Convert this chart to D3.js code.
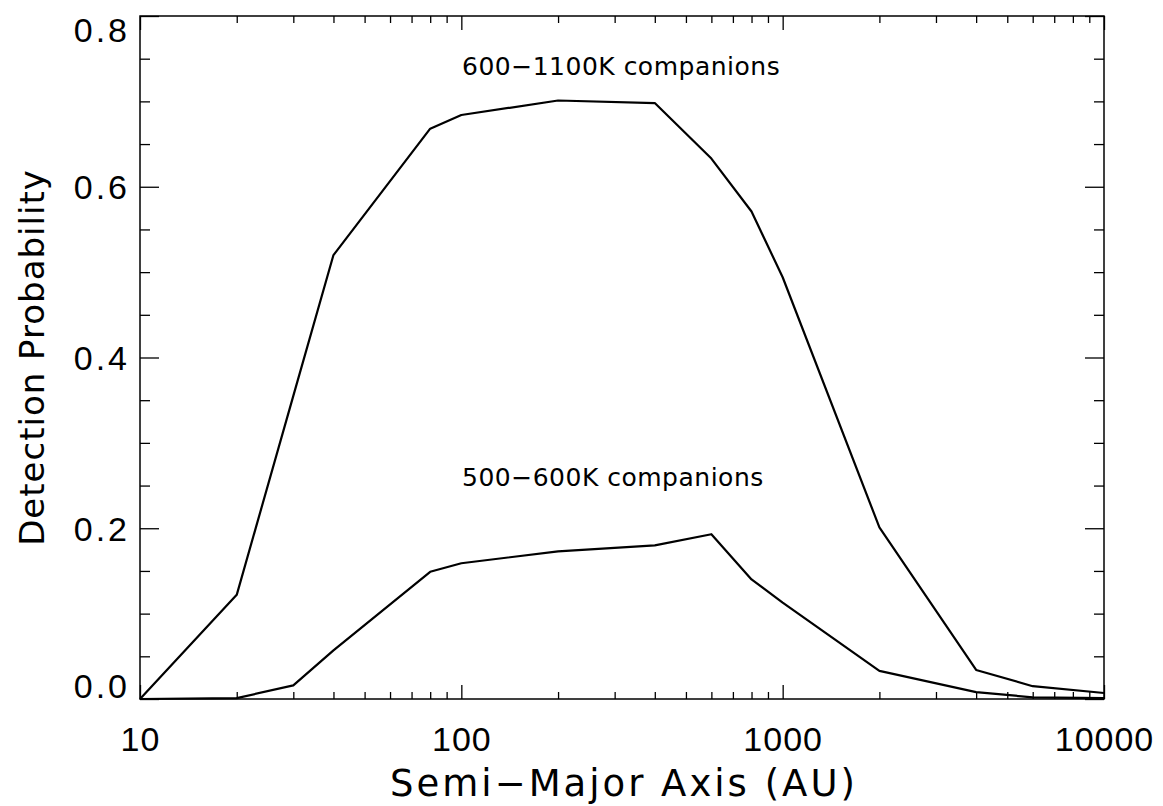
<!DOCTYPE html>
<html>
<head>
<meta charset="utf-8">
<script src="https://cdn.jsdelivr.net/npm/d3@7"></script>
<style>
  body { margin: 0; background: #fff; }
  svg { font-family: "DejaVu Sans", sans-serif; }
  .domain { display: none; }
  .tick line { stroke: #000; stroke-width: 1.3; }
  .tick text { fill: #000; }
</style>
</head>
<body>
<script>
// semi-major axis (AU)
var axisAU = [10, 20, 30, 40, 80, 100, 200, 400, 600, 800, 1000, 2000, 4000, 6000, 10000];
// detection probability, 600-1100K companions
var probHot = [0.0, 0.122, 0.355, 0.520, 0.668, 0.684, 0.701, 0.698, 0.633, 0.571, 0.494, 0.201, 0.034, 0.015, 0.007];
// detection probability, 500-600K companions
var probCool = [0.0, 0.001, 0.016, 0.057, 0.149, 0.159, 0.173, 0.180, 0.193, 0.140, 0.113, 0.033, 0.008, 0.002, 0.001];

var seriesLabels = ['600\u22121100K companions', '500\u2212600K companions'];
var xMajor = [10, 100, 1000, 10000];
var xMinor = [20, 30, 40, 50, 60, 70, 80, 90, 200, 300, 400, 500, 600, 700, 800, 900,
              2000, 3000, 4000, 5000, 6000, 7000, 8000, 9000];
var yMajor = [0, 0.2, 0.4, 0.6, 0.8];
var yMinor = [0.05, 0.1, 0.15, 0.25, 0.3, 0.35, 0.45, 0.5, 0.55, 0.65, 0.7, 0.75];

var W = 1163, H = 806;
var margin = {left: 140, right: 59, top: 16, bottom: 107};
var iw = W - margin.left - margin.right, ih = H - margin.top - margin.bottom;

var svg = d3.select('body').append('svg')
    .attr('width', W)
    .attr('height', H);

var g = svg.append('g').attr('transform', 'translate(' + margin.left + ',' + margin.top + ')');

var x = d3.scaleLog().domain([10, 10000]).range([0, iw]);
var y = d3.scaleLinear().domain([0, 0.8]).range([ih, 0]);

// ticks (inward, mirrored on all four sides)
g.append('g').attr('transform', 'translate(0,' + ih + ')')
    .call(d3.axisBottom(x).tickValues(xMajor).tickSize(-14).tickPadding(28).tickFormat(d3.format('d')))
    .selectAll('text').style('font-size', '34px').style('letter-spacing', '1px');
g.append('g').attr('transform', 'translate(0,' + ih + ')')
    .call(d3.axisBottom(x).tickValues(xMinor).tickSize(-7).tickFormat(''));
g.append('g')
    .call(d3.axisTop(x).tickValues(xMajor).tickSize(-14).tickFormat(''));
g.append('g')
    .call(d3.axisTop(x).tickValues(xMinor).tickSize(-7).tickFormat(''));

var yAx = g.append('g')
    .call(d3.axisLeft(y).tickValues(yMajor).tickSize(-19).tickPadding(10).tickFormat(d3.format('.1f')));
yAx.selectAll('text').style('font-size', '34px').style('letter-spacing', '3px')
    .attr('dy', function(d) { return d === 0 ? '-0.05em' : d === 0.8 ? '0.75em' : '0.35em'; });
g.append('g')
    .call(d3.axisLeft(y).tickValues(yMinor).tickSize(-10).tickFormat(''));
g.append('g').attr('transform', 'translate(' + iw + ',0)')
    .call(d3.axisRight(y).tickValues(yMajor).tickSize(-19).tickFormat(''));
g.append('g').attr('transform', 'translate(' + iw + ',0)')
    .call(d3.axisRight(y).tickValues(yMinor).tickSize(-10).tickFormat(''));

// frame
g.append('rect')
    .attr('width', iw).attr('height', ih)
    .attr('fill', 'none').attr('stroke', '#000').attr('stroke-width', 1.5);

var line = d3.line()
    .x(function(d) { return x(d[0]); })
    .y(function(d) { return y(d[1]); });

[probHot, probCool].forEach(function(s) {
    g.append('path')
        .datum(d3.zip(axisAU, s))
        .attr('d', line)
        .attr('fill', 'none')
        .attr('stroke', '#000')
        .attr('stroke-width', 2.2)
        .attr('stroke-linejoin', 'round');
});

// labels on the curves
g.append('text').attr('x', 322).attr('y', 59)
    .style('font-size', '25px').style('letter-spacing', '0.5px').text(seriesLabels[0]);
g.append('text').attr('x', 322).attr('y', 470)
    .style('font-size', '25px').style('letter-spacing', '0.5px').text(seriesLabels[1]);

// axis titles
svg.append('text')
    .attr('x', margin.left + iw / 2 + 2).attr('y', 796)
    .attr('text-anchor', 'middle')
    .style('font-size', '37px').style('letter-spacing', '3px')
    .text('Semi\u2212Major Axis (AU)');
svg.append('text')
    .attr('transform', 'translate(44,' + (margin.top + ih / 2) + ') rotate(-90)')
    .attr('text-anchor', 'middle')
    .style('font-size', '34px').style('letter-spacing', '1px')
    .text('Detection Probability');
</script>
</body>
</html>
